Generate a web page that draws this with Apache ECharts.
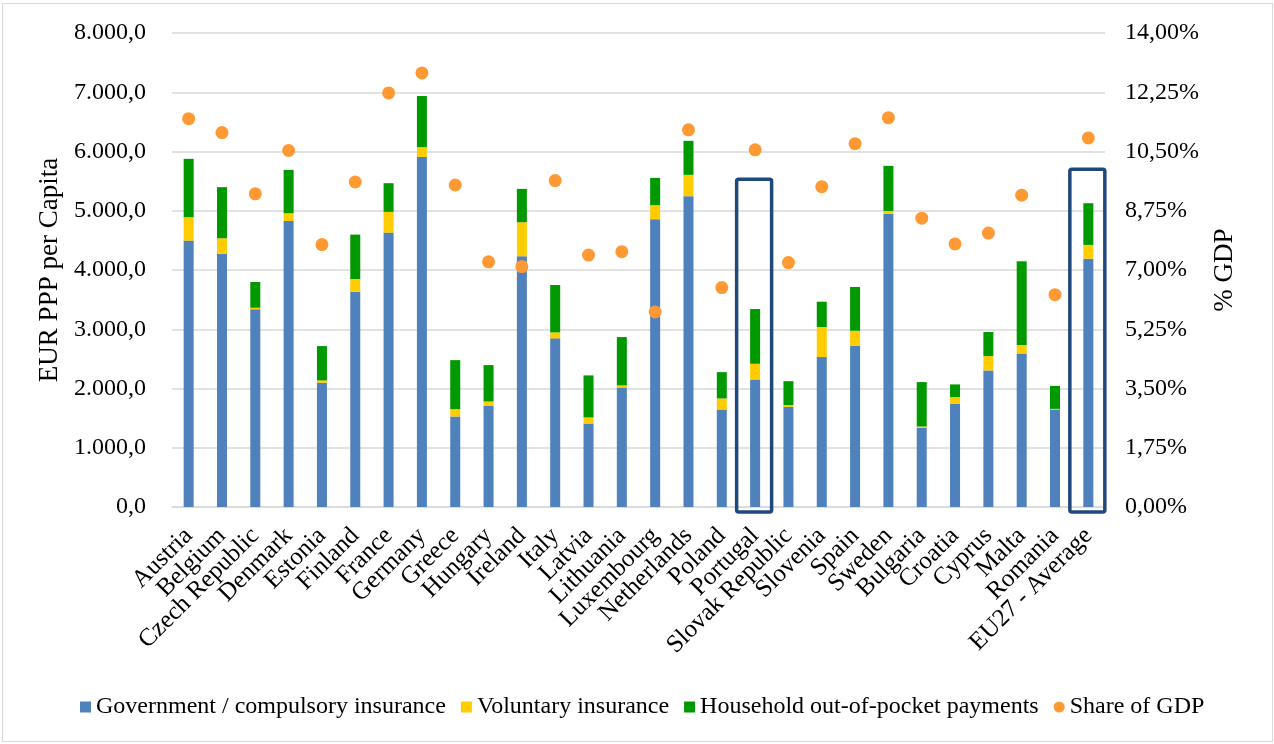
<!DOCTYPE html>
<html>
<head>
<meta charset="utf-8">
<title>Health expenditure per capita</title>
<script src="https://cdn.jsdelivr.net/npm/echarts@6/dist/echarts.min.js"></script>
<style>
  html, body { margin: 0; padding: 0; background: #fff; }
  #frame {
    position: absolute; left: 2px; top: 3px;
    width: 1269px; height: 737px;
    border: 1.5px solid #d9d9d9;
  }
  #chart { position: absolute; left: 0; top: 0; width: 1274px; height: 744px; }
</style>
</head>
<body>
<div id="frame"></div>
<div id="chart"></div>
<script>
// 国家 / 类目
const countries = ['Austria', 'Belgium', 'Czech Republic', 'Denmark', 'Estonia', 'Finland', 'France',
  'Germany', 'Greece', 'Hungary', 'Ireland', 'Italy', 'Latvia', 'Lithuania', 'Luxembourg',
  'Netherlands', 'Poland', 'Portugal', 'Slovak Republic', 'Slovenia', 'Spain', 'Sweden',
  'Bulgaria', 'Croatia', 'Cyprus', 'Malta', 'Romania', 'EU27 - Average']

// EUR PPP per capita
const government = [4496, 4276, 3336, 4828, 2096, 3634, 4631, 5910, 1528, 1707, 4232, 2846, 1409, 2018,
  4857, 5246, 1646, 2153, 1690, 2530, 2721, 4947, 1336, 1741, 2305, 2592, 1646, 4191]
const voluntary = [395, 260, 27, 130, 40, 214, 350, 164, 123, 74, 574, 101, 102, 34,
  237, 360, 186, 264, 29, 507, 254, 50, 23, 113, 242, 141, 10, 232]
const household = [985, 862, 435, 732, 580, 749, 484, 862, 828, 614, 563, 800, 710, 816,
  461, 574, 444, 924, 405, 428, 738, 761, 749, 215, 406, 1414, 389, 704]

// % GDP
const shareGdp = [11.47, 11.06, 9.25, 10.53, 7.75, 9.60, 12.23, 12.82, 9.51, 7.24, 7.10, 9.64, 7.44, 7.54,
  5.76, 11.14, 6.48, 10.55, 7.22, 9.46, 10.73, 11.50, 8.53, 7.77, 8.09, 9.21, 6.27, 10.90]

// 高亮框
const boxCategories = ['Portugal', 'EU27 - Average']
const boxTops = [5530, 5700]

const font = 'Liberation Serif'

function fmtLeft(v) {
  let s = Math.round(v).toString().replace(/\B(?=(\d{3})+(?!\d))/g, '.')
  return s + ',0'
}
function fmtRight(v) {
  return v.toFixed(2).replace('.', ',') + '%'
}

let myChart = echarts.init(document.getElementById('chart'))
myChart.setOption({
  animation: false,
  textStyle: { fontFamily: font },
  color: ['#4f81bd', '#ffcc00', '#009900', '#ff9933'],
  grid: { left: 172, right: 169, top: 33, bottom: 237 },
  legend: {
    bottom: 20,
    left: 75,
    itemWidth: 11,
    itemHeight: 11,
    itemGap: 15,
    textStyle: { fontFamily: font, fontSize: 24, color: '#000' },
    data: [
      { name: 'Government / compulsory insurance', icon: 'rect' },
      { name: 'Voluntary insurance', icon: 'rect' },
      { name: 'Household out-of-pocket payments', icon: 'rect' },
      { name: 'Share of GDP', icon: 'circle' }
    ]
  },
  xAxis: {
    type: 'category',
    data: countries,
    axisLine: { lineStyle: { color: '#d9d9d9', width: 1.5 } },
    axisTick: { length: 6, lineStyle: { color: '#d9d9d9', width: 1.5 } },
    axisLabel: { interval: 0, rotate: 45, fontSize: 25, color: '#000', fontFamily: font, margin: 25 }
  },
  yAxis: [
    {
      type: 'value',
      min: 0, max: 8000, interval: 1000,
      name: 'EUR PPP per Capita',
      nameLocation: 'middle',
      nameGap: 106,
      nameTextStyle: { fontSize: 27, color: '#000', fontFamily: font },
      axisLabel: { fontSize: 24, color: '#000', fontFamily: font, margin: 26, formatter: fmtLeft },
      splitLine: { lineStyle: { color: '#d9d9d9', width: 1.5 } }
    },
    {
      type: 'value',
      min: 0, max: 14, interval: 1.75,
      name: '% GDP',
      nameLocation: 'middle',
      nameGap: 106,
      nameTextStyle: { fontSize: 27, color: '#000', fontFamily: font },
      axisLabel: { fontSize: 24, color: '#000', fontFamily: font, margin: 20, formatter: fmtRight },
      splitLine: { show: false }
    }
  ],
  series: [
    {
      name: 'Government / compulsory insurance',
      type: 'bar',
      stack: 'total',
      barWidth: 10,
      data: government
    },
    {
      name: 'Voluntary insurance',
      type: 'bar',
      stack: 'total',
      barWidth: 10,
      data: voluntary
    },
    {
      name: 'Household out-of-pocket payments',
      type: 'bar',
      stack: 'total',
      barWidth: 10,
      data: household
    },
    {
      name: 'Share of GDP',
      type: 'scatter',
      yAxisIndex: 1,
      symbolSize: 13,
      itemStyle: { opacity: 1 },
      z: 5,
      data: shareGdp
    },
    {
      type: 'custom',
      z: 6,
      silent: true,
      data: boxCategories.map((c, i) => [c, boxTops[i]]),
      renderItem: function (params, api) {
        let top = api.coord([api.value(0), api.value(1)])
        let base = api.coord([api.value(0), 0])
        let w = api.size([1, 0])[0] * 1.05
        return {
          type: 'rect',
          shape: { x: top[0] - w / 2 - 1, y: top[1], width: w, height: base[1] - top[1] + 5, r: 2 },
          style: { fill: 'none', stroke: '#1f497d', lineWidth: 3.5 }
        }
      }
    }
  ]
})
</script>
</body>
</html>
